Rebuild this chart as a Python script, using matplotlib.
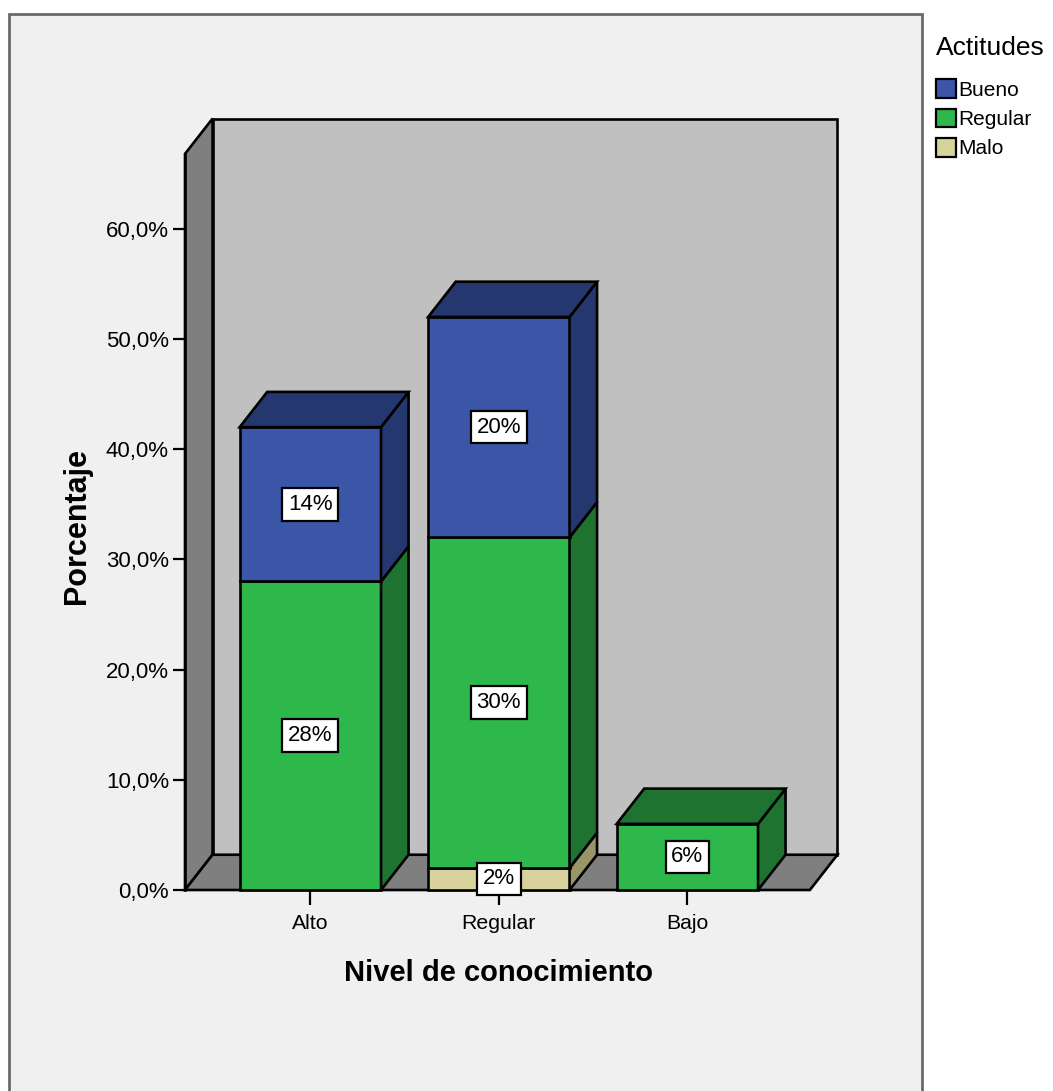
import matplotlib
matplotlib.use("Agg")
import matplotlib.pyplot as plt
from matplotlib.patches import Polygon, Rectangle, Patch
from matplotlib.ticker import FuncFormatter

plt.rcParams['font.family'] = ['Liberation Sans', 'DejaVu Sans']

# --- data -------------------------------------------------------------
categories = ['Alto', 'Regular', 'Bajo']
series_names = ['Malo', 'Regular', 'Bueno']          # stacking order (bottom -> top)
malo = [0, 2, 0]
regular = [28, 30, 6]
bueno = [14, 20, 0]
y_ticks = [0, 10, 20, 30, 40, 50, 60]

# --- styling ----------------------------------------------------------
front_colors = {'Bueno': '#3B56A6', 'Regular': '#2EB84B', 'Malo': '#D8D29C'}
dark_colors = {'Bueno': '#25376F', 'Regular': '#1F7331', 'Malo': '#9A9566'}
wall_back = '#C0C0C0'
wall_side = '#7F7F7F'
edge_lw = 1.9

W, H = 1053, 1091
fig = plt.figure(figsize=(W / 100, H / 100), dpi=100)
fig.patch.set_facecolor('white')

# outer chart frame
fig.add_artist(Rectangle((9 / W, -0.05), (922 - 9) / W, 1.05 - 14 / H,
                         transform=fig.transFigure, facecolor='#F0F0F0',
                         edgecolor='#6A6A6A', linewidth=2, zorder=0))

bar_w = 0.75
dx, dy = 0.146, 3.2          # depth offset of the pseudo-3D effect
x_left, x_right = -0.665, 2.65
wall_top = 66.8

ax = fig.add_axes([185 / W, (H - 890) / H, 665 / W, 7.05 * 110.2 / H])
ax.set_xlim(x_left, x_left + 665 / 188.5)
ax.set_ylim(0, 70.5)
ax.patch.set_alpha(0)
for s in ['top', 'right', 'bottom']:
    ax.spines[s].set_visible(False)
ax.spines['left'].set_bounds(0, wall_top)
ax.spines['left'].set_linewidth(edge_lw)

def poly(pts, fc, z):
    ax.add_patch(Polygon(pts, closed=True, facecolor=fc, edgecolor='black',
                         linewidth=edge_lw, joinstyle='miter', zorder=z,
                         clip_on=False))

# walls and floor
poly([(x_left + dx, dy), (x_right + dx, dy), (x_right + dx, wall_top + dy),
      (x_left + dx, wall_top + dy)], wall_back, 1)
poly([(x_left, 0), (x_left + dx, dy), (x_left + dx, wall_top + dy),
      (x_left, wall_top)], wall_side, 1)
poly([(x_left, 0), (x_right, 0), (x_right + dx, dy), (x_left + dx, dy)],
     wall_side, 1)

# stacked 3D bars
stack = {'Malo': malo, 'Regular': regular, 'Bueno': bueno}
for i, cat in enumerate(categories):
    x0, x1 = i - bar_w / 2, i + bar_w / 2
    base = 0
    segs = [(n, stack[n][i]) for n in series_names if stack[n][i] > 0]
    for k, (name, v) in enumerate(segs):
        top = base + v
        poly([(x0, base), (x1, base), (x1, top), (x0, top)], front_colors[name], 3)
        poly([(x1, base), (x1 + dx, base + dy), (x1 + dx, top + dy), (x1, top)],
             dark_colors[name], 3)
        if k == len(segs) - 1:
            poly([(x0, top), (x1, top), (x1 + dx, top + dy), (x0 + dx, top + dy)],
                 dark_colors[name], 3)
        ax.text(i, base + v / 2, f'{v:.0f}%', ha='center', va='center',
                fontsize=16, zorder=5,
                bbox=dict(boxstyle='square,pad=0.26', facecolor='white',
                          edgecolor='black', linewidth=1.6))
        base = top

# axes ticks
ax.set_yticks(y_ticks)
ax.yaxis.set_major_formatter(FuncFormatter(lambda v, p: f'{v:.1f}%'.replace('.', ',')))
ax.tick_params(axis='y', length=8.6, width=1.6, pad=3, labelsize=16, colors='black')
ax.set_xticks(range(len(categories)))
ax.set_xticklabels(categories)
ax.tick_params(axis='x', length=11, width=1.6, pad=6, labelsize=15.3)

fig.text(498 / W, 1 - 973 / H, 'Nivel de conocimiento', ha='center', va='center',
         fontsize=21, fontweight='bold')
fig.text(77 / W, 1 - 526 / H, 'Porcentaje', ha='center', va='center',
         rotation=90, fontsize=22, fontweight='bold')

# legend
handles = [Patch(facecolor=front_colors[n], edgecolor='black', linewidth=1.6)
           for n in ['Bueno', 'Regular', 'Malo']]
leg = fig.legend(handles, ['Bueno', 'Regular', 'Malo'], title='Actitudes',
                 loc='upper left', bbox_to_anchor=(936 / W, 1 - 36 / H),
                 frameon=False, fontsize=15, title_fontsize=19,
                 handlelength=0.95, handleheight=1.0, handletextpad=0.1,
                 labelspacing=0.42, borderaxespad=0, borderpad=0,
                 alignment='left')
leg._legend_box.sep = 14

fig.savefig('out.png', dpi=100, facecolor='white')
